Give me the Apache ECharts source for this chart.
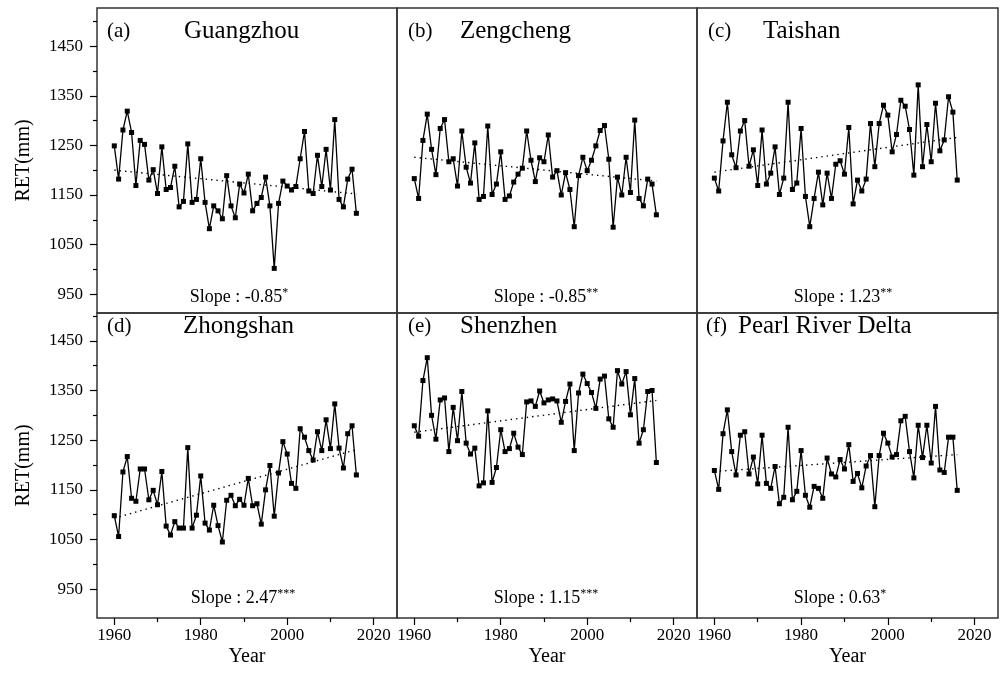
<!DOCTYPE html>
<html><head><meta charset="utf-8">
<script src="https://cdn.jsdelivr.net/npm/echarts@6/dist/echarts.min.js"></script>
<style>html,body{margin:0;padding:0;background:#fff}#c{width:1001px;height:677px}</style>
</head><body><div id="c"></div>
<script>
const years = [1960,1961,1962,1963,1964,1965,1966,1967,1968,1969,1970,1971,1972,1973,1974,1975,1976,1977,1978,1979,1980,1981,1982,1983,1984,1985,1986,1987,1988,1989,1990,1991,1992,1993,1994,1995,1996,1997,1998,1999,2000,2001,2002,2003,2004,2005,2006,2007,2008,2009,2010,2011,2012,2013,2014,2015,2016];
const guangzhou = [1249,1182,1281,1319,1276,1169,1260,1252,1180,1201,1153,1247,1161,1165,1208,1126,1137,1253,1135,1141,1223,1135,1082,1128,1118,1102,1189,1128,1104,1172,1154,1192,1118,1133,1145,1186,1128,1002,1133,1178,1168,1160,1167,1223,1278,1158,1153,1230,1167,1242,1160,1302,1141,1126,1182,1202,1113];
const zengcheng = [1183,1143,1260,1313,1242,1191,1284,1302,1217,1223,1168,1279,1206,1174,1255,1141,1147,1289,1151,1172,1237,1141,1148,1176,1192,1204,1279,1220,1177,1225,1217,1271,1186,1199,1150,1195,1161,1086,1189,1226,1199,1220,1249,1280,1290,1222,1085,1186,1150,1226,1155,1301,1143,1128,1182,1172,1110];
const taishan = [1184,1158,1259,1337,1231,1205,1279,1300,1208,1241,1169,1281,1172,1194,1247,1151,1184,1337,1161,1174,1284,1147,1086,1143,1196,1130,1194,1143,1212,1219,1192,1286,1132,1180,1158,1182,1294,1207,1294,1331,1311,1237,1272,1341,1329,1282,1190,1372,1207,1292,1217,1335,1239,1261,1348,1317,1180];
const zhongshan = [1098,1056,1186,1217,1133,1127,1192,1192,1130,1149,1120,1187,1077,1059,1086,1073,1073,1235,1073,1099,1178,1083,1069,1119,1078,1045,1129,1139,1118,1131,1119,1173,1118,1122,1081,1150,1199,1097,1184,1247,1222,1163,1153,1273,1256,1229,1210,1267,1229,1291,1233,1323,1234,1194,1263,1279,1180];
const shenzhen = [1279,1258,1370,1416,1300,1252,1331,1335,1227,1316,1249,1348,1244,1222,1234,1158,1164,1309,1165,1195,1271,1227,1233,1264,1236,1221,1327,1329,1318,1349,1325,1331,1333,1329,1286,1328,1363,1229,1345,1383,1364,1346,1314,1373,1379,1293,1276,1390,1363,1388,1301,1374,1244,1271,1348,1350,1205];
const pearlRiverDelta = [1189,1151,1263,1311,1227,1180,1260,1267,1182,1216,1162,1260,1163,1153,1197,1122,1135,1276,1130,1147,1229,1139,1115,1157,1153,1133,1214,1182,1176,1211,1192,1241,1167,1183,1154,1198,1219,1116,1219,1264,1244,1216,1221,1289,1298,1227,1174,1280,1215,1280,1204,1318,1190,1185,1256,1256,1149];

const panelLetters = ['(a)','(b)','(c)','(d)','(e)','(f)'];
const panelNames = ['Guangzhou','Zengcheng','Taishan','Zhongshan','Shenzhen','Pearl River Delta'];
const slopeValues = ['-0.85','-0.85','1.23','2.47','1.15','0.63'];
const slopeStars = ['*','**','**','***','***','*'];
const trendYears = [1960, 2016];
const trendStart = [1200,1226,1196,1093,1266,1187];
const trendEnd = [1152,1178,1266,1231,1330,1221];
const yTickLabels = [950,1050,1150,1250,1350,1450];
const yMinorTicks = [1000,1100,1200,1300,1400,1500];
const xTickLabels = [1960,1980,2000,2020];
const xMinorTicks = [1970,1990,2010];
const yAxisTitle = 'RET(mm)';
const xAxisTitle = 'Year';

const seriesValues = [guangzhou, zengcheng, taishan, zhongshan, shenzhen, pearlRiverDelta];

// layout
const FONT = '"Liberation Serif", "Times New Roman", serif';
const colLeft = [97, 397, 697];
const colWidth = [300, 300, 301];
const rowTop = [8, 313];
const rowHeight = 305;
const yRange = [[912, 1527], [892, 1506]];
const xRange = [1956, 2025.4];
const letterX = [107, 408, 708, 107, 408, 706];
const nameX = [184, 460, 763, 183, 460, 738];
const titleY = [31, 326];
const slopeX = [239, 546, 843, 243, 546, 840];
const slopeY = [297, 598];
const plain = v => String(v);

const grids = [], xAxes = [], yAxes = [], series = [], graphics = [];
for (let i = 0; i < 6; i++) {
  const r = Math.floor(i / 3), c = i % 3;
  grids.push({left: colLeft[c], top: rowTop[r], width: colWidth[c], height: rowHeight,
    show: true, borderColor: '#333', borderWidth: 1.5, backgroundColor: 'transparent', containLabel: false});
  const bottomRow = r === 1, leftCol = c === 0;
  xAxes.push({type: 'value', gridIndex: i, min: xRange[0], max: xRange[1], position: 'bottom',
    splitLine: {show: false}, axisLine: {show: false},
    axisTick: {show: bottomRow, inside: false, length: 7, customValues: xTickLabels, lineStyle: {color: '#000', width: 1.2}},
    axisLabel: {show: bottomRow, customValues: xTickLabels, formatter: plain, margin: 9, color: '#000', fontSize: 17, fontFamily: FONT},
    name: bottomRow ? xAxisTitle : '', nameLocation: 'middle', nameGap: 29,
    nameTextStyle: {fontSize: 20, fontFamily: FONT, color: '#000'}});
  xAxes.push({type: 'value', gridIndex: i, min: xRange[0], max: xRange[1], position: 'bottom', offset: 0,
    splitLine: {show: false}, axisLine: {show: false},
    axisTick: {show: bottomRow, inside: false, length: 4, customValues: xMinorTicks, lineStyle: {color: '#000', width: 1.2}},
    axisLabel: {show: false}});
  yAxes.push({type: 'value', gridIndex: i, min: yRange[r][0], max: yRange[r][1], position: 'left',
    splitLine: {show: false}, axisLine: {show: false},
    axisTick: {show: leftCol, inside: false, length: 7, customValues: yTickLabels, lineStyle: {color: '#000', width: 1.2}},
    axisLabel: {show: leftCol, customValues: yTickLabels, formatter: plain, margin: 14, color: '#000', fontSize: 17, fontFamily: FONT},
    name: leftCol ? yAxisTitle : '', nameLocation: 'middle', nameGap: 63,
    nameTextStyle: {fontSize: 20, fontFamily: FONT, color: '#000'}});
  yAxes.push({type: 'value', gridIndex: i, min: yRange[r][0], max: yRange[r][1], position: 'left', offset: 0,
    splitLine: {show: false}, axisLine: {show: false},
    axisTick: {show: leftCol, inside: false, length: 4, customValues: yMinorTicks, lineStyle: {color: '#000', width: 1.2}},
    axisLabel: {show: false}});

  const vals = seriesValues[i];
  series.push({type: 'line', xAxisIndex: 2 * i, yAxisIndex: 2 * i,
    data: years.map((y, k) => [y, vals[k]]),
    symbol: 'rect', symbolSize: 5, showSymbol: true,
    itemStyle: {color: '#000'}, lineStyle: {color: '#000', width: 1.3}, animation: false, z: 3});
  series.push({type: 'line', xAxisIndex: 2 * i, yAxisIndex: 2 * i,
    data: [[trendYears[0], trendStart[i]], [trendYears[1], trendEnd[i]]],
    symbol: 'none', lineStyle: {color: '#000', width: 1.4, type: [1.4, 4]}, animation: false, z: 2});

  graphics.push({type: 'text', style: {text: panelLetters[i], x: letterX[i], y: titleY[r],
    verticalAlign: 'middle', fontSize: 21, fontFamily: FONT, fill: '#000'}});
  graphics.push({type: 'text', style: {text: panelNames[i], x: nameX[i], y: titleY[r],
    verticalAlign: 'middle', fontSize: 25, fontFamily: FONT, fill: '#000'}});
  graphics.push({type: 'text', style: {
    text: '{t|Slope : ' + slopeValues[i] + '}{s|' + slopeStars[i] + '}',
    x: slopeX[i], y: slopeY[r], align: 'center', verticalAlign: 'middle',
    rich: {t: {fontSize: 18, fontFamily: FONT, fill: '#000', color: '#000'},
           s: {fontSize: 12, fontFamily: FONT, verticalAlign: 'top', fill: '#000', color: '#000', padding: [0, 0, 8, 0]}}}});
}

const chart = echarts.init(document.getElementById('c'), null, {renderer: 'canvas'});
chart.setOption({
  backgroundColor: '#fff',
  animation: false,
  grid: grids, xAxis: xAxes, yAxis: yAxes, series: series,
  graphic: graphics
});
</script>
</body></html>
